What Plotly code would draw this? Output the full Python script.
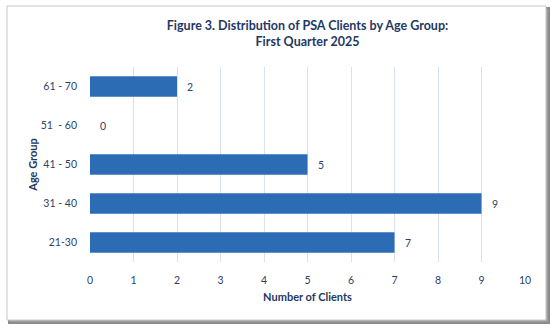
import plotly.graph_objects as go

age_groups = ["21-30", "31 - 40", "41 - 50", "51  - 60", "61 - 70"]
clients = [7, 9, 5, 0, 2]
x_ticks = list(range(0, 11))

L, R, T, B = 90, 29, 67, 66
W, H = 554, 328
pw, ph = W - L - R, H - T - B

def px(x):
    return (x - L) / pw

def py(y):
    return (H - B - y) / ph

fig = go.Figure(go.Bar(
    x=clients, y=age_groups, orientation="h",
    marker=dict(color="#2b6cb5", line=dict(color="#245d9d", width=0)),
    width=0.52,
))

for v, g in zip(clients, age_groups):
    fig.add_annotation(x=v, y=g, text=str(v), showarrow=False, xanchor="left", xshift=8,
                       font=dict(family="Lato", size=10.5, color="#2f4266"))

shapes = [
    dict(type="rect", xref="paper", yref="paper", x0=px(9), x1=px(549), y0=py(323), y1=py(8),
         line=dict(color="#8c8c8c", width=2), fillcolor="#a0a0a0", layer="below"),
    dict(type="rect", xref="paper", yref="paper", x0=px(7), x1=px(546), y0=py(320), y1=py(6),
         line=dict(color="#c8c8c8", width=1), fillcolor="white", layer="below"),
]

fig.update_layout(
    width=W, height=H, margin=dict(l=L, r=R, t=T, b=B),
    paper_bgcolor="white", plot_bgcolor="rgba(0,0,0,0)",
    shapes=shapes, showlegend=False,
    title=dict(text="<b>Figure 3. Distribution of PSA Clients by Age Group:<br>First Quarter 2025</b>",
               x=0.5, xref="paper", xanchor="center", y=1 - 30 / H, yanchor="top",
               font=dict(family="Lato", size=12.5, color="#1f3864")),
    font=dict(family="Lato", size=11, color="#2f4266"),
)
fig.update_xaxes(range=[0, 10], tickvals=x_ticks, showgrid=True, gridcolor="#d6e2f0", gridwidth=1,
                 zeroline=False, showline=False, ticks="", ticklen=0, ticklabelstandoff=10,
                 tickfont=dict(family="Lato", size=10.5, color="#2f4266"),
                 title=dict(text="<b>Number of Clients</b>", standoff=8,
                            font=dict(family="Lato", size=11, color="#1f3864")))
fig.update_yaxes(showgrid=False, zeroline=False, showline=False, ticks="", ticklen=0,
                 tickfont=dict(family="Lato", size=10.5, color="#2f4266"), ticklabelstandoff=12,
                 title=dict(text="<b>Age Group</b>", standoff=0,
                            font=dict(family="Lato", size=11, color="#1f3864")))

fig.write_html("out.html")
